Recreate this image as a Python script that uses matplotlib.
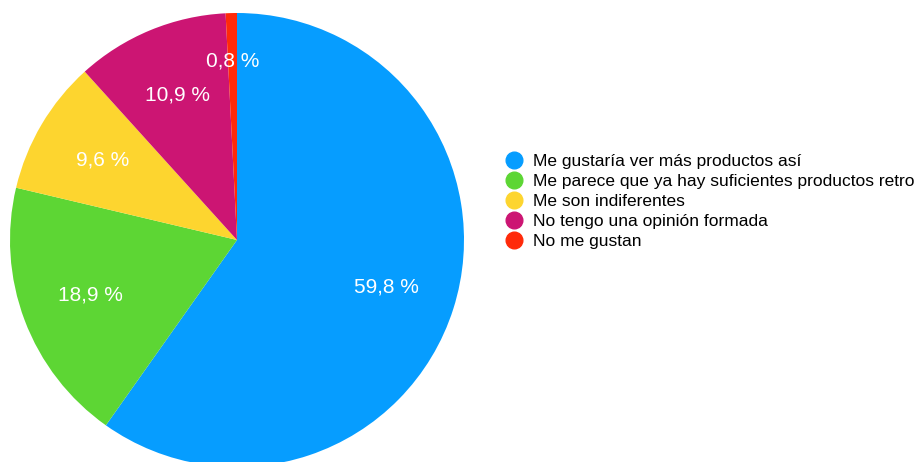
import matplotlib.pyplot as plt
from matplotlib.lines import Line2D
import numpy as np

plt.rcParams['font.family'] = ['Liberation Sans', 'DejaVu Sans']

categories = [
    "Me gustaría ver más productos así",
    "Me parece que ya hay suficientes productos retro",
    "Me son indiferentes",
    "No tengo una opinión formada",
    "No me gustan",
]
values = [59.8, 18.9, 9.6, 10.9, 0.8]
colors = ["#069DFF", "#5DD634", "#FDD52F", "#CC1573", "#FF2A0A"]

fig = plt.figure(figsize=(9.15, 4.62), dpi=100)
ax = fig.add_axes([10 / 915, -5 / 462, 454 / 915, 454 / 462])

wedges, texts, autotexts = ax.pie(
    values,
    colors=colors,
    startangle=90,
    counterclock=False,
    autopct=lambda p: f"{p:.1f} %".replace(".", ","),
    pctdistance=0.69,
    wedgeprops=dict(linewidth=0),
    textprops=dict(color="white", fontsize=15),
)
# small slice label sits a bit further out
x, y = autotexts[-1].get_position()
autotexts[-1].set_position((x * 0.79 / 0.69, y * 0.79 / 0.69))
ax.set_xlim(-1, 1)
ax.set_ylim(-1, 1)
ax.set_aspect("auto")

handles = [
    Line2D([0], [0], marker="o", linestyle="none", markersize=12,
           markerfacecolor=c, markeredgecolor=c)
    for c in colors
]
fig.legend(
    handles, categories,
    loc="upper left",
    bbox_to_anchor=(497 / 915, 1 - 145 / 462),
    frameon=False,
    fontsize=12.5,
    handlelength=1.0,
    handletextpad=0.55,
    labelspacing=0.28,
    borderpad=0,
)

plt.savefig("out.png", dpi=100)
